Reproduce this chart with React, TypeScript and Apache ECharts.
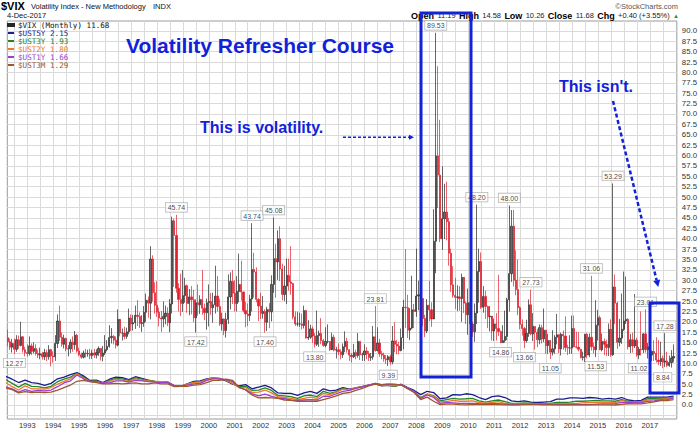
import React, { useEffect, useRef } from "react";
import * as echarts from "echarts";

const FONT = "'Liberation Sans', Arial, Helvetica, sans-serif";
const MONO = "'DejaVu Sans Mono', 'Liberation Mono', monospace";
const BLUE = "#1222d8";

// Months are counted from January 1992 (offset 0). First candle: April 1992.
const BASE_YEAR = 1992;
const FIRST_MONTH_OFFSET = 3;
const FIRST_OPEN = 16.2;

// $VIX monthly closes, Apr 1992 .. Dec 2017 (one row per year)
const vixClose = [
  15.2, 13.9, 14.8, 13.4, 15.7, 14.3, 16.4, 13.3, 12.6,
  12.4, 14.2, 12.9, 13.6, 12.4, 12.0, 12.3, 11.6, 12.6, 11.6, 13.3, 11.8,
  11.6, 14.8, 20.2, 16.3, 14.6, 16.0, 13.5, 13.5, 15.1, 14.5, 16.8, 13.0,
  12.1, 11.5, 12.5, 12.3, 12.4, 11.9, 12.5, 12.0, 12.6, 13.6, 11.7, 12.5,
  13.3, 14.1, 16.2, 16.5, 15.6, 14.4, 20.6, 17.3, 17.3, 16.5, 17.6, 20.9,
  19.5, 19.8, 21.6, 21.3, 19.6, 19.8, 22.3, 25.2, 24.5, 35.1, 27.0, 24.0,
  22.3, 20.9, 20.7, 21.3, 22.1, 19.8, 24.3, 44.3, 40.8, 28.1, 25.4, 24.4,
  26.3, 28.7, 24.4, 26.0, 25.3, 21.0, 24.6, 24.1, 25.4, 23.3, 22.2, 24.6,
  24.9, 23.4, 24.1, 26.2, 23.7, 19.5, 20.7, 17.9, 20.6, 26.0, 29.7, 26.9,
  24.4, 27.3, 29.0, 27.2, 22.7, 21.9, 21.5, 25.5, 32.6, 32.0, 25.4, 23.8,
  22.0, 22.5, 19.9, 23.0, 22.4, 29.0, 35.2, 34.4, 40.0, 32.7, 26.6, 28.6,
  31.2, 29.6, 29.2, 21.2, 19.5, 19.5, 19.5, 19.1, 22.7, 16.1, 16.3, 18.3,
  16.6, 14.6, 16.7, 17.2, 15.5, 14.3, 15.3, 15.3, 13.3, 16.3, 13.2, 13.3,
  12.8, 12.1, 14.0, 15.3, 13.3, 12.0, 11.6, 12.6, 11.9, 15.3, 12.1, 12.1,
  13.0, 12.3, 11.4, 11.6, 16.4, 13.1, 14.9, 12.3, 12.0, 11.1, 10.9, 11.6,
  10.4, 15.4, 14.6, 14.2, 13.1, 16.2, 23.5, 23.4, 18.0, 18.5, 22.9, 22.5,
  26.2, 26.5, 25.6, 20.8, 17.8, 24.0, 22.9, 20.7, 39.4, 59.9, 55.3, 40.0,
  44.8, 46.4, 44.1, 36.5, 28.9, 26.4, 25.9, 26.0, 25.6, 30.7, 24.5, 21.7,
  24.6, 19.5, 17.6, 22.1, 32.1, 34.5, 23.5, 26.1, 23.7, 21.2, 21.4, 17.8,
  19.5, 18.4, 17.7, 15.0, 15.5, 16.5, 25.3, 31.6, 43.0, 30.0, 27.8, 23.4,
  19.4, 18.4, 15.5, 17.2, 24.1, 17.1, 18.9, 17.5, 15.7, 18.6, 15.9, 18.0,
  14.3, 15.5, 12.7, 13.5, 16.3, 16.9, 13.5, 17.0, 16.6, 13.8, 13.7, 13.7,
  18.4, 14.0, 13.9, 13.4, 11.4, 11.6, 17.0, 12.0, 16.3, 14.0, 13.3, 19.2,
  21.0, 13.3, 15.3, 14.6, 13.8, 18.2, 12.1, 28.4, 24.5, 15.1, 16.1, 18.2,
  20.2, 20.6, 14.0, 15.7, 14.2, 15.6, 12.0, 13.4, 13.3, 17.1, 13.3, 14.0,
  12.0, 12.9, 12.4, 10.8, 10.4, 11.2, 10.3, 10.6, 9.5, 10.2, 11.28, 11.68,
];

const vixHigh = [
  18.1, 16.0, 15.9, 16.0, 16.8, 16.7, 20.0, 16.6, 14.0,
  14.6, 16.5, 14.8, 15.1, 14.6, 13.3, 13.8, 12.8, 13.5, 13.3, 14.4, 13.5,
  12.9, 16.8, 21.8, 23.9, 17.5, 16.9, 16.2, 14.4, 15.8, 16.5, 17.8, 17.1,
  13.8, 12.6, 13.1, 13.5, 13.3, 13.5, 13.3, 13.5, 13.4, 14.1, 13.4, 14.2,
  16.8, 15.6, 19.2, 18.5, 16.8, 16.5, 23.0, 20.0, 18.4, 18.8, 18.6, 23.2,
  21.8, 21.7, 23.9, 25.2, 22.3, 21.6, 23.8, 26.8, 26.1, 38.2, 36.0, 29.5,
  29.8, 23.4, 22.6, 24.9, 23.9, 23.5, 25.5, 45.3, 44.8, 45.74, 29.3, 31.6,
  32.5, 30.6, 29.0, 27.9, 28.6, 27.7, 25.4, 29.0, 26.4, 32.5, 24.4, 25.6,
  29.0, 26.9, 27.0, 33.5, 31.0, 25.6, 22.2, 20.8, 22.2, 31.4, 31.9, 32.5,
  30.0, 31.0, 36.4, 34.7, 27.0, 24.8, 24.4, 26.5, 43.74, 36.6, 33.1, 25.7,
  27.0, 26.2, 23.0, 23.6, 24.5, 31.2, 45.08, 38.8, 42.0, 43.0, 34.0, 33.5,
  35.2, 35.2, 38.2, 29.4, 22.5, 22.4, 22.2, 22.0, 23.9, 22.9, 20.4, 19.3,
  18.9, 17.3, 22.7, 17.9, 20.9, 15.9, 18.7, 19.4, 15.3, 17.4, 16.9, 14.0,
  14.8, 13.4, 14.8, 17.7, 16.2, 13.4, 12.5, 14.7, 13.3, 17.3, 15.3, 12.6,
  14.6, 13.9, 13.0, 12.5, 19.0, 23.81, 18.7, 15.9, 13.0, 12.6, 12.0, 12.0,
  12.1, 19.0, 19.9, 15.6, 15.2, 18.4, 25.3, 37.5, 26.5, 23.3, 31.1, 24.3,
  37.6, 29.9, 32.2, 25.6, 21.7, 25.5, 29.9, 24.7, 47.1, 89.53, 81.5, 68.6,
  57.4, 53.2, 53.7, 45.0, 37.6, 33.4, 30.6, 28.8, 28.6, 31.6, 30.6, 24.9,
  28.0, 27.3, 20.1, 24.4, 48.2, 37.6, 36.7, 28.6, 27.5, 23.9, 23.8, 20.6,
  20.8, 22.1, 31.3, 17.9, 19.2, 22.7, 25.8, 48.0, 46.9, 46.9, 37.2, 35.0,
  23.8, 20.6, 18.8, 20.5, 25.4, 27.73, 22.1, 18.9, 18.3, 19.4, 19.3, 23.2,
  18.0, 17.1, 15.4, 18.0, 16.8, 21.9, 16.8, 17.4, 17.9, 21.3, 14.5, 16.8,
  21.5, 21.5, 17.6, 17.5, 13.5, 12.8, 17.1, 17.3, 17.2, 31.06, 15.0, 25.2,
  22.9, 21.5, 17.2, 16.0, 15.7, 19.6, 20.6, 53.29, 31.4, 24.8, 20.7, 26.8,
  32.1, 30.9, 20.9, 17.1, 17.4, 26.7, 16.2, 14.0, 22.5, 17.3, 23.01, 14.9,
  14.3, 13.1, 15.6, 16.3, 15.6, 15.2, 11.9, 17.28, 12.8, 11.9, 13.2, 14.58,
];

const vixLow = [
  14.1, 13.2, 12.6, 12.27, 12.8, 13.5, 14.1, 12.6, 11.7,
  11.6, 11.9, 12.0, 12.4, 11.9, 11.3, 11.0, 10.9, 10.8, 10.6, 10.9, 9.31,
  10.2, 10.6, 13.7, 15.4, 14.0, 13.6, 12.9, 11.7, 12.5, 12.8, 13.3, 12.6,
  11.7, 11.1, 11.2, 11.4, 11.6, 11.0, 11.1, 11.3, 11.2, 11.8, 10.7, 10.5,
  12.0, 12.9, 13.8, 14.8, 14.6, 13.6, 14.1, 16.5, 15.5, 15.8, 15.9, 17.0,
  17.8, 17.9, 18.3, 19.0, 18.5, 17.6, 18.8, 20.0, 21.0, 20.6, 24.9, 22.0,
  21.2, 18.9, 17.6, 18.7, 19.4, 19.0, 17.5, 22.0, 28.4, 27.0, 22.5, 21.4,
  22.4, 24.6, 22.2, 21.6, 21.8, 19.9, 17.42, 21.5, 21.9, 21.7, 20.4, 18.1,
  18.9, 21.7, 19.8, 22.0, 22.5, 19.0, 17.9, 16.8, 16.2, 19.5, 23.0, 24.3,
  22.5, 22.5, 24.7, 25.1, 22.3, 18.7, 19.0, 20.2, 22.5, 25.8, 24.7, 20.2,
  20.7, 20.8, 17.4, 17.8, 18.5, 20.1, 27.0, 25.8, 30.1, 29.8, 25.2, 25.0,
  24.3, 27.5, 26.5, 20.6, 19.0, 18.9, 18.8, 18.2, 18.4, 16.0, 15.6, 15.9,
  14.9, 13.8, 14.2, 14.0, 14.6, 14.0, 13.9, 14.8, 13.0, 13.5, 12.9, 11.2,
  12.0, 11.0, 11.3, 12.7, 12.6, 10.6, 10.2, 11.3, 11.0, 11.4, 10.8, 10.6,
  10.6, 11.0, 10.6, 10.6, 10.9, 12.8, 12.9, 11.6, 11.0, 10.4, 9.9, 9.39,
  9.7, 9.8, 12.7, 12.2, 12.2, 12.9, 13.4, 18.5, 16.1, 15.6, 18.2, 18.5,
  21.2, 22.8, 23.0, 18.9, 16.3, 17.3, 20.2, 18.8, 20.9, 31.7, 47.4, 39.2,
  37.3, 39.9, 39.6, 33.5, 27.2, 25.8, 23.1, 22.6, 22.7, 20.0, 22.1, 19.5,
  16.9, 18.8, 16.4, 15.2, 19.5, 24.6, 23.1, 22.2, 20.7, 18.5, 17.7, 15.5,
  15.4, 15.5, 16.6, 14.86, 14.9, 15.0, 15.6, 22.5, 29.6, 28.5, 26.4, 21.6,
  18.2, 16.7, 13.66, 15.0, 16.4, 16.8, 15.4, 13.3, 13.9, 14.6, 14.8, 15.1,
  12.3, 12.3, 11.05, 11.9, 12.3, 14.6, 12.5, 11.9, 13.3, 12.8, 12.0, 12.3,
  12.3, 13.9, 13.6, 12.9, 11.2, 10.7, 10.3, 11.2, 11.5, 13.1, 12.4, 11.53,
  15.5, 13.2, 12.9, 12.0, 11.8, 11.8, 11.6, 11.8, 19.5, 13.5, 14.1, 14.7,
  17.8, 19.5, 13.3, 12.5, 12.6, 13.7, 11.6, 11.02, 11.9, 12.5, 12.6, 11.2,
  10.6, 10.6, 10.6, 10.2, 9.6, 9.4, 8.84, 9.1, 9.1, 9.2, 9.0, 10.26,
];

// Annotated swing highs / lows (month of the candle)
const highLabelMonths = ["1998-10", "2001-09", "2002-07", "2006-06", "2008-10", "2010-05", "2011-08", "2012-06", "2014-10", "2015-08", "2016-11", "2017-08"];
const lowLabelMonths = ["1992-07", "1999-07", "2002-03", "2004-02", "2006-12", "2011-04", "2012-03", "2013-03", "2014-12", "2016-08", "2017-07"];

// Treasury yields, quarter ends (Mar, Jun, Sep, Dec), Mar 1992 .. Dec 2017
const YIELD_FIRST_OFFSET = 2;
const YIELD_STEP = 3;
const ust5y = [
  6.9, 6.2, 5.4, 6.0, 5.4, 5.2, 4.7, 5.2, 6.3, 6.7, 7.3, 7.8, 7.0, 5.9, 6.0, 5.4,
  6.2, 6.7, 6.6, 6.1, 6.8, 6.4, 6.0, 5.7, 5.6, 5.5, 4.6, 4.5, 5.1, 5.7, 5.8, 6.3,
  6.5, 6.3, 5.8, 5.0, 4.6, 4.9, 3.9, 4.3, 4.7, 4.1, 2.9, 2.8, 2.8, 2.3, 2.9, 3.3,
  2.8, 3.9, 3.4, 3.6, 4.2, 3.8, 4.1, 4.4, 4.8, 5.1, 4.6, 4.7, 4.5, 5.0, 4.2, 3.5,
  2.5, 3.3, 3.0, 1.5, 1.7, 2.5, 2.4, 2.7, 2.5, 1.8, 1.3, 2.0, 2.2, 1.8, 1.0, 0.8,
  1.0, 0.7, 0.6, 0.7, 0.8, 1.4, 1.4, 1.7, 1.7, 1.6, 1.8, 1.7, 1.4, 1.6, 1.4, 1.8,
  1.2, 1.0, 1.1, 1.9, 1.9, 1.9, 1.9, 2.15,
];
const ust3y = [
  6.1, 5.2, 4.3, 5.2, 4.5, 4.4, 4.1, 4.5, 5.6, 6.2, 6.7, 7.6, 6.7, 5.7, 5.8, 5.2,
  5.9, 6.4, 6.3, 5.9, 6.5, 6.2, 5.9, 5.7, 5.6, 5.5, 4.5, 4.5, 5.0, 5.5, 5.6, 6.1,
  6.5, 6.4, 5.9, 5.1, 4.4, 4.5, 3.5, 3.6, 4.1, 3.5, 2.3, 2.2, 2.0, 1.6, 2.2, 2.4,
  2.0, 3.3, 2.8, 3.2, 4.0, 3.6, 4.1, 4.4, 4.8, 5.1, 4.7, 4.7, 4.5, 4.9, 4.0, 3.1,
  1.8, 2.6, 2.2, 1.0, 1.3, 1.6, 1.4, 1.5, 1.6, 1.0, 0.7, 1.0, 1.2, 0.8, 0.4, 0.4,
  0.5, 0.4, 0.3, 0.35, 0.4, 0.6, 0.6, 0.7, 0.9, 0.9, 1.0, 1.1, 1.0, 1.0, 0.9, 1.3,
  0.9, 0.7, 0.8, 1.5, 1.5, 1.5, 1.6, 1.93,
];
const ust2y = [
  5.4, 4.4, 3.6, 4.6, 3.9, 3.9, 3.8, 4.2, 5.0, 5.7, 6.3, 7.5, 6.5, 5.7, 5.7, 5.2,
  5.7, 6.2, 6.0, 5.7, 6.3, 6.0, 5.8, 5.7, 5.6, 5.5, 4.6, 4.5, 5.0, 5.4, 5.5, 6.1,
  6.5, 6.4, 6.0, 5.2, 4.2, 4.2, 3.0, 3.1, 3.6, 2.9, 2.0, 1.8, 1.6, 1.3, 1.6, 1.9,
  1.6, 2.8, 2.5, 3.1, 3.8, 3.7, 4.1, 4.4, 4.8, 5.2, 4.8, 4.8, 4.6, 4.9, 4.0, 3.1,
  1.6, 2.6, 2.1, 0.8, 0.8, 1.1, 0.9, 0.9, 1.0, 0.6, 0.4, 0.6, 0.8, 0.4, 0.2, 0.25,
  0.3, 0.3, 0.25, 0.25, 0.25, 0.35, 0.35, 0.35, 0.4, 0.5, 0.6, 0.7, 0.6, 0.6, 0.6, 1.05,
  0.8, 0.6, 0.8, 1.2, 1.3, 1.4, 1.5, 1.8,
];
const ust1y = [
  4.4, 3.9, 3.1, 3.7, 3.3, 3.5, 3.4, 3.6, 4.4, 5.3, 5.8, 7.2, 6.3, 5.6, 5.6, 5.3,
  5.3, 5.8, 5.8, 5.5, 5.9, 5.8, 5.6, 5.5, 5.4, 5.4, 4.7, 4.6, 4.8, 5.1, 5.2, 5.9,
  6.3, 6.3, 6.1, 5.6, 4.2, 3.7, 2.7, 2.2, 2.6, 2.1, 1.7, 1.5, 1.2, 1.1, 1.2, 1.3,
  1.2, 2.1, 2.1, 2.7, 3.3, 3.5, 4.0, 4.4, 4.8, 5.2, 4.9, 5.0, 4.9, 4.9, 4.0, 3.3,
  1.6, 2.4, 1.8, 0.4, 0.6, 0.5, 0.4, 0.4, 0.4, 0.3, 0.25, 0.3, 0.3, 0.2, 0.1, 0.12,
  0.2, 0.2, 0.17, 0.15, 0.14, 0.12, 0.1, 0.13, 0.12, 0.1, 0.1, 0.2, 0.25, 0.28, 0.33, 0.65,
  0.6, 0.5, 0.6, 0.85, 1.0, 1.2, 1.3, 1.66,
];
const ust3m = [
  4.1, 3.7, 2.9, 3.2, 3.0, 3.1, 3.0, 3.1, 3.6, 4.2, 4.8, 5.7, 5.9, 5.6, 5.4, 5.1,
  5.1, 5.2, 5.1, 5.2, 5.3, 5.1, 5.1, 5.3, 5.1, 5.1, 4.4, 4.5, 4.5, 4.8, 4.9, 5.4,
  5.9, 5.9, 6.2, 5.9, 4.3, 3.6, 2.4, 1.7, 1.8, 1.7, 1.6, 1.2, 1.1, 0.9, 0.9, 0.9,
  0.9, 1.3, 1.7, 2.2, 2.8, 3.0, 3.5, 4.0, 4.6, 5.0, 4.9, 5.0, 5.0, 4.8, 3.9, 3.0,
  1.3, 1.9, 0.9, 0.1, 0.2, 0.2, 0.1, 0.05, 0.15, 0.12, 0.15, 0.12, 0.09, 0.04, 0.02, 0.02,
  0.08, 0.09, 0.1, 0.05, 0.07, 0.04, 0.02, 0.07, 0.05, 0.04, 0.02, 0.04, 0.03, 0.01, 0.0, 0.16,
  0.3, 0.26, 0.29, 0.51, 0.76, 1.03, 1.06, 1.29,
];

const yieldSeries = [
  { name: "$UST5Y", data: ust5y, color: "#1c1c8e" },
  { name: "$UST3Y", data: ust3y, color: "#23862a" },
  { name: "$UST2Y", data: ust2y, color: "#ee7a28" },
  { name: "$UST1Y", data: ust1y, color: "#9b3fd0" },
  { name: "$UST3M", data: ust3m, color: "#a0562e" },
];

const yearLabels = [1993, 1994, 1995, 1996, 1997, 1998, 1999, 2000, 2001, 2002, 2003, 2004, 2005, 2006, 2007, 2008, 2009, 2010, 2011, 2012, 2013, 2014, 2015, 2016, 2017];
const yTickValues = [0, 2.5, 5, 7.5, 10, 12.5, 15, 17.5, 20, 22.5, 25, 27.5, 30, 32.5, 35, 37.5, 40, 42.5, 45, 47.5, 50, 52.5, 55, 57.5, 60, 62.5, 65, 67.5, 70, 72.5, 75, 77.5, 80, 82.5, 85, 87.5, 90];

const quoteOpen = 11.19;
const quoteDate = "4-Dec-2017";

function monthOffset(ym: string) {
  const [y, m] = ym.split("-").map(Number);
  return (y - BASE_YEAR) * 12 + (m - 1);
}

function buildOption() {
  const candleData = vixClose.map((c, i) => [
    FIRST_MONTH_OFFSET + i,
    i === 0 ? FIRST_OPEN : vixClose[i - 1],
    c,
    vixLow[i],
    vixHigh[i],
  ]);
  const highPts = highLabelMonths.map((ym) => {
    const m = monthOffset(ym);
    return [m, vixHigh[m - FIRST_MONTH_OFFSET]];
  });
  const lowPts = lowLabelMonths.map((ym) => {
    const m = monthOffset(ym);
    return [m, vixLow[m - FIRST_MONTH_OFFSET]];
  });
  const yearOffsets = yearLabels.map((y) => (y - BASE_YEAR) * 12);
  const xGrid: number[] = [];
  yearOffsets.forEach((o) => xGrid.push(o - 6, o));
  xGrid.push(yearOffsets[yearOffsets.length - 1] + 6);
  const yGrid = [-2.5, ...yTickValues];

  const n = vixClose.length;
  const lastClose = vixClose[n - 1];
  const prevClose = vixClose[n - 2];
  const chg = lastClose - prevClose;
  const chgPct = (chg / prevClose) * 100;

  const lastVals: Record<string, string> = { "$VIX (Monthly)": lastClose.toFixed(2) };
  yieldSeries.forEach((s) => (lastVals[s.name] = s.data[s.data.length - 1].toFixed(2)));

  const labelBase = {
    show: true,
    fontSize: 7,
    fontFamily: FONT,
    color: "#111",
    backgroundColor: "#fff",
    borderColor: "#9a9a9a",
    borderWidth: 0.6,
    padding: [1.5, 2, 0.5, 2],
    formatter: (p: any) => Number(p.value[1]).toFixed(2),
  };

  const tip = { x: 658.3, y: 287 };

  return {
    animation: false,
    backgroundColor: "#ffffff",
    textStyle: { fontFamily: FONT },
    grid: { left: 7.3, right: 23, top: 21, bottom: 14, show: true, borderColor: "#9a9a9a", borderWidth: 1 },
    legend: {
      orient: "vertical",
      left: 7,
      top: 21,
      padding: 0,
      itemGap: 0,
      itemWidth: 6,
      itemHeight: 2,
      icon: "rect",
      selectedMode: false,
      textStyle: { fontFamily: MONO, fontSize: 7.6, lineHeight: 7.8, padding: [0, 0, 0, -1] },
      formatter: (name: string) => `${name} ${lastVals[name]}`,
      data: [
        { name: "$VIX (Monthly)", textStyle: { color: "#111" }, itemStyle: { color: "#222" } },
        ...yieldSeries.map((s) => ({ name: s.name, textStyle: { color: s.color } })),
      ],
    },
    xAxis: {
      type: "value",
      min: 2.77,
      max: 312.5,
      axisLine: { show: false },
      axisTick: { show: false, customValues: xGrid },
      splitLine: { show: true, lineStyle: { color: "#dadada", width: 1 } },
      axisLabel: {
        customValues: yearOffsets,
        formatter: (v: number) => String(BASE_YEAR + Math.round(v / 12)),
        fontSize: 7.5,
        fontFamily: FONT,
        color: "#333",
        margin: 2,
      },
    },
    yAxis: {
      type: "value",
      position: "right",
      min: -3.37,
      max: 92.37,
      axisLine: { show: false },
      axisTick: { show: false, customValues: yGrid },
      splitLine: { show: true, lineStyle: { color: "#dadada", width: 1 } },
      axisLabel: {
        customValues: yTickValues,
        formatter: (v: number) => v.toFixed(1),
        fontSize: 7.8,
        fontFamily: FONT,
        color: "#333",
        margin: 5,
      },
    },
    series: [
      {
        name: "$VIX (Monthly)",
        type: "candlestick",
        data: candleData,
        dimensions: ["m", "open", "close", "lowest", "highest"],
        encode: { x: "m", y: ["open", "close", "lowest", "highest"] },
        barWidth: 1.7,
        z: 3,
        itemStyle: {
          color: "#6a6a6a",
          color0: "#e01e2c",
          borderColor: "#262626",
          borderColor0: "#e01e2c",
          borderWidth: 0.7,
        },
      },
      ...yieldSeries.map((s) => ({
        name: s.name,
        type: "line",
        data: s.data.map((v, k) => [YIELD_FIRST_OFFSET + k * YIELD_STEP, v]),
        showSymbol: false,
        symbol: "none",
        clip: true,
        z: 2,
        color: s.color,
        lineStyle: { color: s.color, width: 1.3 },
      })),
      {
        name: "highs",
        type: "scatter",
        data: highPts,
        symbolSize: 1,
        itemStyle: { color: "rgba(0,0,0,0)" },
        z: 6,
        label: { ...labelBase, position: "top", distance: 2.5 },
      },
      {
        name: "lows",
        type: "scatter",
        data: lowPts,
        symbolSize: 1,
        itemStyle: { color: "rgba(0,0,0,0)" },
        z: 6,
        label: { ...labelBase, position: "bottom", distance: 4 },
      },
    ],
    graphic: [
      { type: "text", x: 1, y: 5.5, style: { text: "$VIX", fontSize: 11, fontWeight: "bold", fontFamily: FONT, fill: "#000", verticalAlign: "middle" } },
      { type: "text", x: 31, y: 6.5, style: { text: "Volatility Index - New Methodology", fontSize: 7.5, fontFamily: FONT, fill: "#111", verticalAlign: "middle" } },
      { type: "text", x: 153, y: 6.5, style: { text: "INDX", fontSize: 7.5, fontFamily: FONT, fill: "#111", verticalAlign: "middle" } },
      { type: "text", x: 7, y: 15.8, style: { text: quoteDate, fontSize: 7.5, fontFamily: FONT, fill: "#111", verticalAlign: "middle" } },
      { type: "text", x: 678, y: 6, style: { text: "\u00a9StockCharts.com", fontSize: 7.5, fontFamily: FONT, fill: "#555", align: "right", verticalAlign: "middle" } },
      {
        type: "text",
        x: 679,
        y: 15.5,
        z: 20,
        style: {
          text:
            `{b|Open} {v|${quoteOpen.toFixed(2)}} {b|High} {v|${vixHigh[n - 1].toFixed(2)}} {b|Low} {v|${vixLow[n - 1].toFixed(2)}} ` +
            `{b|Close} {v|${lastClose.toFixed(2)}} {b|Chg} {v|${chg >= 0 ? "+" : ""}${chg.toFixed(2)} (${chgPct >= 0 ? "+" : ""}${chgPct.toFixed(2)}%)} {u|\u25b2}`,
          align: "right",
          verticalAlign: "middle",
          fontFamily: FONT,
          rich: {
            b: { fontSize: 9, fontWeight: "bold", fill: "#000", fontFamily: FONT },
            v: { fontSize: 7.5, fill: "#222", fontFamily: FONT },
            u: { fontSize: 6, fill: "#1a9a2a", fontFamily: FONT },
          },
        },
      },
      { type: "text", x: 126, y: 45, z: 20, style: { text: "Volatility Refresher Course", fontSize: 21, fontWeight: "bold", fontFamily: FONT, fill: BLUE, verticalAlign: "middle" } },
      { type: "text", x: 200, y: 127.5, z: 20, style: { text: "This is volatility.", fontSize: 16, fontWeight: "bold", fontFamily: FONT, fill: BLUE, verticalAlign: "middle" } },
      { type: "text", x: 633, y: 86.5, z: 20, style: { text: "This isn't.", fontSize: 16, fontWeight: "bold", fontFamily: FONT, fill: BLUE, align: "right", verticalAlign: "middle" } },
      { type: "line", z: 20, shape: { x1: 343, y1: 137.3, x2: 410, y2: 137.3 }, style: { stroke: BLUE, lineWidth: 1.5, lineDash: [3, 2] } },
      { type: "polygon", z: 20, shape: { points: [[409, 134.8], [414, 137.3], [409, 139.8]] }, style: { fill: BLUE } },
      { type: "line", z: 20, shape: { x1: 613, y1: 101, x2: 656.6, y2: 280.2 }, style: { stroke: BLUE, lineWidth: 2.5, lineDash: [4, 2.5] } },
      { type: "polygon", z: 20, shape: { points: [[660.1, 279.4], [tip.x, tip.y], [653.2, 281.0]] }, style: { fill: BLUE } },
      { type: "rect", z: 20, shape: { x: 421, y: 13, width: 50, height: 364 }, style: { fill: "none", stroke: BLUE, lineWidth: 3 } },
      { type: "rect", z: 20, shape: { x: 650, y: 303, width: 29, height: 90 }, style: { fill: "none", stroke: BLUE, lineWidth: 3 } },
    ],
  };
}

export default function App() {
  const ref = useRef<HTMLDivElement>(null);
  useEffect(() => {
    if (!ref.current) return;
    const chart = echarts.init(ref.current, null, { renderer: "svg" });
    chart.setOption(buildOption() as any);
    return () => chart.dispose();
  }, []);
  return (
    <div
      ref={ref}
      style={{ position: "fixed", left: 0, top: 0, width: 700, height: 433, background: "#fff" }}
    />
  );
}
